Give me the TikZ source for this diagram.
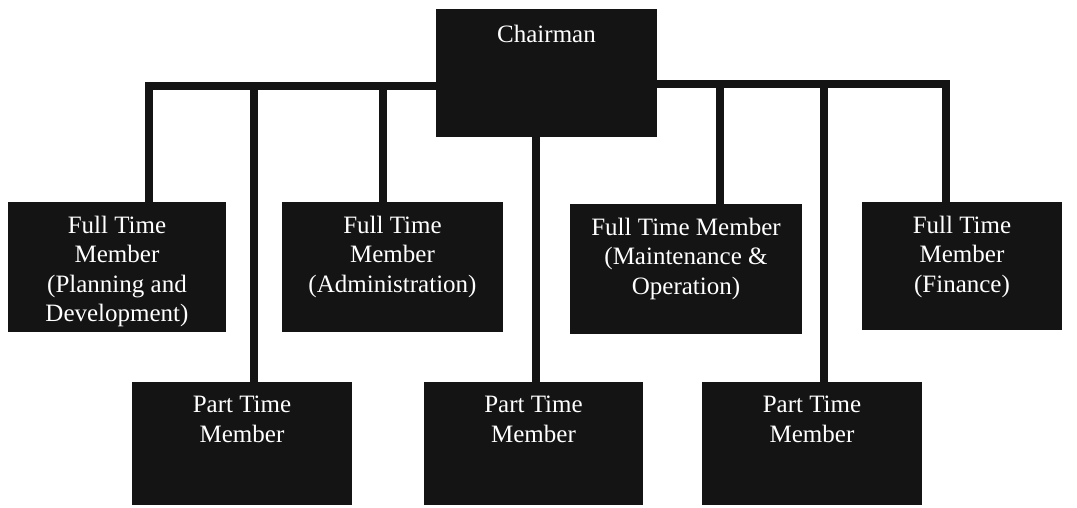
\documentclass[tikz,border=0pt]{standalone}
\usepackage{fontspec}
\setmainfont{Liberation Serif}
\newfontfamily\tnr{Liberation Serif}
\definecolor{boxblack}{HTML}{141414}
\begin{document}
\begin{tikzpicture}[x=1pt,y=-1pt,
  box/.style={rectangle, fill=boxblack, draw=none, inner sep=0pt},
  lbl/.style={anchor=north, inner sep=0pt, yshift=-14pt, text=white, align=center,
    font=\tnr\fontsize{25}{29.5}\selectfont},
  conn/.style={draw=boxblack, line width=8pt, line join=miter}]
\useasboundingbox (0,0) rectangle (1077,507);
\coordinate (lbar) at (0,85.5);
\coordinate (rbar) at (0,84);
% boxes
\node[box, minimum width=221pt, minimum height=128pt, label={[lbl, yshift=-2pt]north:Chairman}] (chair) at (546.5,73) {};
\node[box, minimum width=218pt, minimum height=130pt, label={[lbl]north:{Full Time\\Member\\(Planning and\\Development)}}] (ft1) at (117,267) {};
\node[box, minimum width=221pt, minimum height=130pt, label={[lbl]north:{Full Time\\Member\\(Administration)}}] (ft2) at (392.5,267) {};
\node[box, minimum width=232pt, minimum height=130pt, label={[lbl]north:{Full Time Member\\(Maintenance \&\\Operation)}}] (ft3) at (686,269) {};
\node[box, minimum width=200pt, minimum height=128pt, label={[lbl]north:{Full Time\\Member\\(Finance)}}] (ft4) at (962,266) {};
\node[box, minimum width=220pt, minimum height=123pt, label={[lbl]north:{Part Time\\Member}}] (pt1) at (242,443.5) {};
\node[box, minimum width=219pt, minimum height=123pt, label={[lbl]north:{Part Time\\Member}}] (pt2) at (533.5,443.5) {};
\node[box, minimum width=220pt, minimum height=123pt, label={[lbl]north:{Part Time\\Member}}] (pt3) at (812,443.5) {};
% connectors
\draw[conn] (chair.west |- lbar) -| ([xshift=32pt]ft1.north);
\draw[conn] ([xshift=12pt]pt1.north) -- ([xshift=12pt]pt1.north |- lbar);
\draw[conn] ([xshift=-9.5pt]ft2.north) -- ([xshift=-9.5pt]ft2.north |- lbar);
\draw[conn] ([xshift=2.5pt]pt2.north) -- ([xshift=2.5pt]pt2.north |- chair.south);
\draw[conn] (chair.east |- rbar) -| ([xshift=-16.5pt]ft4.north);
\draw[conn] ([xshift=34pt]ft3.north) -- ([xshift=34pt]ft3.north |- rbar);
\draw[conn] ([xshift=12pt]pt3.north) -- ([xshift=12pt]pt3.north |- rbar);
\end{tikzpicture}
\end{document}
